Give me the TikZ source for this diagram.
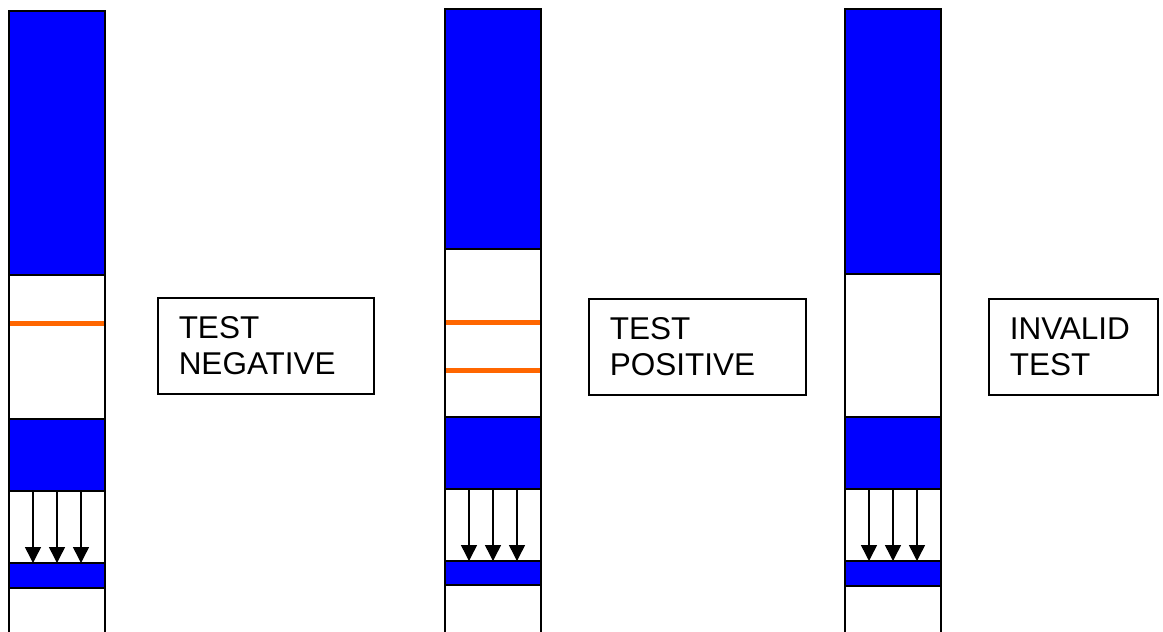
\documentclass[tikz,border=0pt]{standalone}
\usepackage{fontspec}
\setmainfont{Liberation Sans}
\usetikzlibrary{calc, arrows.meta}
\definecolor{stripblue}{RGB}{0,0,255}
\definecolor{lineorange}{RGB}{255,102,0}

\begin{document}
\begin{tikzpicture}[x=1pt, y=-1pt]
        \tikzset{strip/.style = {shape=rectangle, draw, fill=white, line width=1.5pt, minimum width=96pt, inner sep=0pt, outer sep=0pt, anchor=north west}}
        \tikzset{band/.style = {strip, fill=stripblue}}
        \tikzset{stripe/.style = {line width=5pt, draw=lineorange}}
        \tikzset{flow/.style = {-{Triangle[width=16pt,length=16pt]}, line width=1.5pt}}
        \tikzset{result/.style = {shape=rectangle, draw, line width=1.5pt, minimum height=96pt, inner xsep=21pt, inner ysep=0pt, align=left, anchor=north west, font=\fontsize{31.5}{36.5}\selectfont}}
        \clip (0,0) rectangle (1163,632);

        % negative strip
        \node[strip, minimum height=640pt] (p1) at (9,11) {};
        \draw[stripe] (10,323) -- (104,323);
        \node[band, minimum height=264pt] (t1) at (9,11) {};
        \node[band, minimum height=72pt] (m1) at (9,419) {};
        \node[band, minimum height=25pt] (s1) at (9,563) {};

        % positive strip
        \node[strip, minimum height=640pt] (p2) at (445,9) {};
        \draw[stripe] (446,322) -- (540,322);
        \draw[stripe] (446,370) -- (540,370);
        \node[band, minimum height=240pt] (t2) at (445,9) {};
        \node[band, minimum height=72pt] (m2) at (445,417) {};
        \node[band, minimum height=24pt] (s2) at (445,561) {};

        % invalid strip
        \node[strip, minimum height=640pt] (p3) at (845,9) {};
        \node[band, minimum height=265pt] (t3) at (845,9) {};
        \node[band, minimum height=72pt] (m3) at (845,417) {};
        \node[band, minimum height=25pt] (s3) at (845,561) {};

        \foreach \i in {1,2,3}
          \foreach \f in {0.25, 0.5, 0.75}
            \draw[flow] ($(m\i.south west)!\f!(m\i.south east)$) -- ($(s\i.north west)!\f!(s\i.north east)$);

        \node[result, text width=174pt] (r1) at (157,297) {TEST\\NEGATIVE};
        \node[result, text width=175pt] (r2) at (588,298) {TEST\\POSITIVE};
        \node[result, text width=127pt] (r3) at (988,298) {INVALID\\TEST};
      \end{tikzpicture}
\end{document}
